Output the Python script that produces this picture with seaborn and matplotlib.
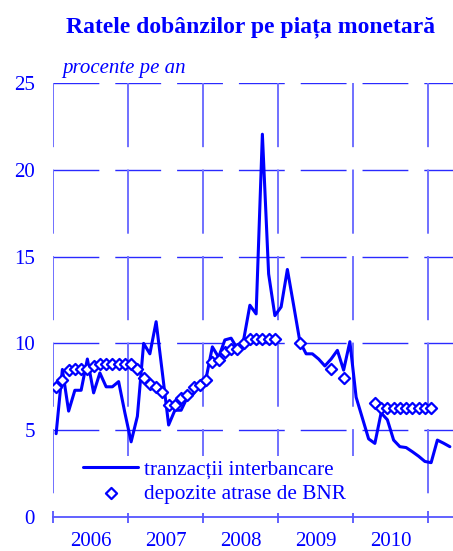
import numpy as np
import pandas as pd
import matplotlib
matplotlib.use('Agg')
import matplotlib.pyplot as plt
from matplotlib.patches import Rectangle
import seaborn as sns

# monthly values, Jan 2006 - Apr 2011
years = ['2006', '2007', '2008', '2009', '2010']
interbank = [4.8, 8.5, 6.1, 7.3, 7.3, 9.1, 7.15, 8.3, 7.5, 7.5, 7.8, 6.0,
             4.33, 5.8, 10.0, 9.4, 11.25, 8.3, 5.3, 6.15, 6.15, 6.9, 7.1, 7.7,
             8.0, 9.8, 9.2, 10.2, 10.3, 9.7, 10.2, 12.2, 11.7, 22.05, 14.0, 11.6,
             12.1, 14.26, 12.2, 10.1, 9.4, 9.4, 9.1, 8.7, 9.1, 9.6, 8.46, 10.1,
             6.9, 5.7, 4.5, 4.24, 6.0, 5.6, 4.43, 4.05, 4.0, 3.76, 3.5, 3.2,
             3.13, 4.43, 4.25, 4.05]
deposits = [7.5, 7.9, 8.46, 8.5, 8.5, 8.55, 8.7, 8.8, 8.8, 8.8, 8.8, 8.8,
            8.8, 8.5, 7.98, 7.66, 7.47, 7.2, 6.45, 6.45, 6.83, 7.0, 7.47, 7.6,
            7.9, 8.94, 9.04, 9.5, 9.65, 9.7, 10.0, 10.25, 10.25, 10.25, 10.25, 10.25,
            None, None, None, 10.0, None, None, None, None, 8.5, None, 8.0, None,
            None, None, None, 6.55, 6.26, 6.26, 6.26, 6.26, 6.26, 6.26, 6.26, 6.26,
            6.26, None, None, None]
labels = ['tranzacții interbancare', 'depozite atrase de BNR']

sns.set_style('white')
plt.rcParams['font.family'] = ['Liberation Serif', 'DejaVu Serif']
blue = '#0000ff'

df = pd.DataFrame({'month': np.arange(len(interbank)) + 0.5,
                   'interbank': interbank,
                   'deposits': pd.array(deposits, dtype='Float64').astype(float)})

fig = plt.figure(figsize=(4.53, 5.51), dpi=100)
ax = fig.add_axes([53 / 453, 34 / 551, 400 / 453, 434 / 551])
ax.set_xlim(0, 64)
ax.set_ylim(0, 25)

# dashed grid
dash = (0, (33, 11.5))
for yv in [5, 10, 15, 20, 25]:
    ax.plot([0, 64], [yv, yv], color='#2a2aff', lw=1.0, ls=dash, zorder=1)
for xv in range(0, 64, 12):
    ax.plot([xv, xv], [25, 0], color='#7070ff', lw=1.4, ls=dash, zorder=1)

ax.add_patch(Rectangle((0.0175, 0.01), 0.75, 0.13, transform=ax.transAxes,
                       facecolor='white', edgecolor='none', zorder=1.5))

sns.lineplot(data=df, x='month', y='interbank', color=blue, lw=2.2,
             label=labels[0], ax=ax, zorder=3)
sns.scatterplot(data=df, x='month', y='deposits', marker='D', s=32,
                facecolor='white', edgecolor=blue, linewidth=1.6,
                label=labels[1], ax=ax, zorder=4)

ax.legend(loc='lower left', bbox_to_anchor=(0.075, 0.03), frameon=False,
          fontsize=15.3, handlelength=2.6, handletextpad=0.25, labelspacing=0.2,
          borderpad=0, borderaxespad=0, labelcolor=blue)

ax.set_xticks(range(0, 64, 12))
ax.set_xticklabels([])
ax.set_xticks(range(6, 64, 12), minor=True)
ax.set_xticklabels(years, minor=True)
ax.tick_params(axis='x', which='major', direction='inout', length=8, width=1.3,
               color='#5555ff', bottom=True)
ax.tick_params(axis='x', which='minor', length=0, pad=11, labelsize=15,
               labelcolor=blue)
ax.set_yticks([0, 5, 10, 15, 20, 25])
ax.tick_params(axis='y', length=0, pad=13, labelsize=15, labelcolor=blue)
ax.set_xlabel('')
ax.set_ylabel('')

for s in ['top', 'right', 'left']:
    ax.spines[s].set_visible(False)
ax.spines['bottom'].set_color('#5555ff')
ax.spines['bottom'].set_linewidth(1.3)

fig.text(251 / 453, 1 - 32 / 551, 'Ratele dobânzilor pe piața monetară',
         ha='center', va='baseline', fontsize=17, fontweight='bold', color=blue)
fig.text(62 / 453, 1 - 73 / 551, 'procente pe an', ha='left', va='baseline',
         fontsize=15, style='italic', color=blue)

fig.savefig('out.png', dpi=100)
